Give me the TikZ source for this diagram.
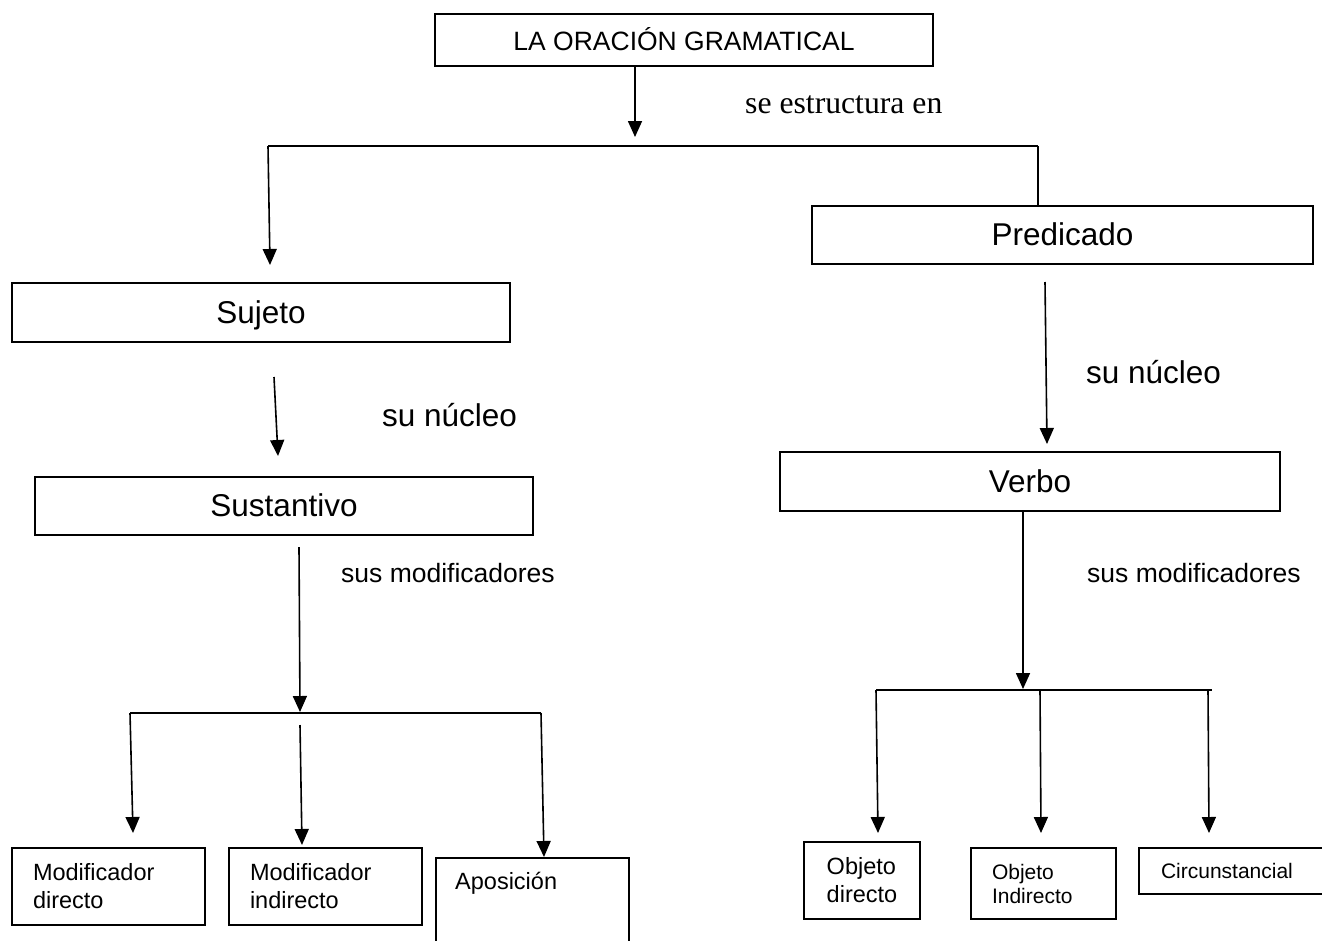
\documentclass[tikz,border=0pt]{standalone}
\usepackage{fontspec}
\setmainfont{Liberation Sans}
\newfontfamily\timesfont{Liberation Serif}
\usetikzlibrary{arrows.meta}
\begin{document}
\begin{tikzpicture}[x=1pt,y=-1pt,
  box/.style={draw,line width=1.7pt,rectangle,inner sep=0pt},
  conn/.style={line width=1.6pt},
  arr/.style={conn,-{Triangle[length=16pt,width=14pt]}},
  bigf/.style={font=\fontsize{31.5}{36}\selectfont,text height=21.4pt,text depth=0pt},
  midf/.style={font=\fontsize{26.5}{32}\selectfont},
  smallf/.style={font=\fontsize{23.5}{28}\selectfont},
  tinyf/.style={font=\fontsize{21}{24}\selectfont},
  seriff/.style={font=\timesfont\fontsize{31.7}{36}\selectfont},
]
\clip (0,0) rectangle (1322,940);
\fill[white] (0,0) rectangle (1322,940);

% boxes
\node[box,midf,text height=20pt,text depth=0pt,minimum width=498pt,minimum height=52pt] (top) at (684,40) {LA ORACIÓN GRAMATICAL};
\node[box,bigf,minimum width=501pt,minimum height=58pt] (pred) at (1062.5,235) {Predicado};
\node[box,bigf,minimum width=498pt,minimum height=59pt] (suj) at (261,312.5) {Sujeto};
\node[box,bigf,minimum width=498pt,minimum height=58pt] (sus) at (284,506) {Sustantivo};
\node[box,bigf,minimum width=500pt,minimum height=59pt] (verbo) at (1030,481.5) {Verbo};

\node[box,smallf,minimum width=193pt,minimum height=77pt,text width=151pt,inner xsep=21pt,align=left] (md) at (108.5,886.5) {Modificador\\directo};
\node[box,smallf,minimum width=193pt,minimum height=77pt,text width=151pt,inner xsep=21pt,align=left] (mi) at (325.5,886.5) {Modificador\\indirecto};
\node[box,minimum width=193pt,minimum height=112pt] (ap) at (532.5,914) {};
\node[smallf,anchor=west,inner sep=0pt] (aptext) at (455,883) {Aposición};

\node[box,smallf,minimum width=116pt,minimum height=77pt,align=left] (od) at (862,880.5) {Objeto\\directo};
\node[box,tinyf,minimum width=145pt,minimum height=71pt,text width=103pt,inner xsep=21pt,align=left] (oi) at (1043.5,883.5) {Objeto\\Indirecto};
\node[box,tinyf,minimum width=206pt,minimum height=46pt,text width=162pt,inner xsep=22pt,align=left] (ci) at (1242,871) {Circunstancial};

% labels
\node[seriff,anchor=base west,inner sep=0pt] (se) at (745,113) {se estructura en};
\node[bigf,anchor=base west,inner sep=0pt] (nucL) at (382,426) {su núcleo};
\node[bigf,anchor=base west,inner sep=0pt] (nucR) at (1086,383) {su núcleo};
\node[midf,anchor=base west,inner sep=0pt] (modL) at (341,582) {sus modificadores};
\node[midf,anchor=base west,inner sep=0pt] (modR) at (1087,582) {sus modificadores};

% coordinates
\coordinate (t1) at (635,137);
\coordinate (hl) at (268,146);
\coordinate (hr) at (1038,146);
\coordinate (sujtip) at (270,265);
\coordinate (a1) at (274,377);
\coordinate (a1tip) at (278,456);
\coordinate (p1) at (1045,282);
\coordinate (p1tip) at (1047,444);
\coordinate (s1) at (299,547);
\coordinate (s1tip) at (300,712);
\coordinate (lh1) at (130,713);
\coordinate (lh3) at (541,713);
\coordinate (l1tip) at (133,833);
\coordinate (l2) at (300,725);
\coordinate (l2tip) at (302,845);
\coordinate (l3tip) at (544,857);
\coordinate (v1tip) at (1023,689);
\coordinate (rh1) at (876,690);
\coordinate (rh2) at (1040,690);
\coordinate (rh3) at (1212,690);
\coordinate (rh3b) at (1208,690);
\coordinate (r1tip) at (878,833);
\coordinate (r2tip) at (1041,833);
\coordinate (r3tip) at (1209,833);

% connectors
\draw[arr] (top.south -| t1) -- (t1);
\draw[conn] (hl) -- (hr);
\draw[arr] (hl) -- (sujtip);
\draw[conn] (hr) -- (hr |- pred.north);
\draw[arr] (a1) -- (a1tip);
\draw[arr] (p1) -- (p1tip);
\draw[arr] (s1) -- (s1tip);
\draw[conn] (lh1) -- (lh3);
\draw[arr] (lh1) -- (l1tip);
\draw[arr] (l2) -- (l2tip);
\draw[arr] (lh3) -- (l3tip);
\draw[arr] (verbo.south -| v1tip) -- (v1tip);
\draw[conn] (rh1) -- (rh3);
\draw[arr] (rh1) -- (r1tip);
\draw[arr] (rh2) -- (r2tip);
\draw[arr] (rh3b) -- (r3tip);
\end{tikzpicture}
\end{document}
